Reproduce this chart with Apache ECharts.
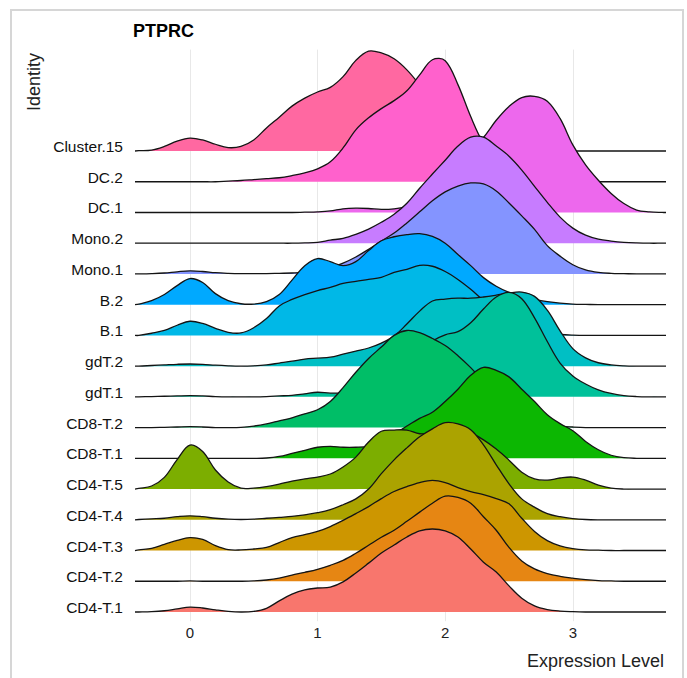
<!DOCTYPE html>
<html><head><meta charset="utf-8">
<script src="https://cdn.jsdelivr.net/npm/echarts@6/dist/echarts.min.js"></script>
<style>html,body{margin:0;padding:0;background:#fff}#c{width:687px;height:678px}</style>
</head><body><div id="c"></div>
<script>
// Identities, bottom row first
const identities = ['CD4-T.1','CD4-T.2','CD4-T.3','CD4-T.4','CD4-T.5','CD8-T.1','CD8-T.2','gdT.1','gdT.2','B.1','B.2','Mono.1','Mono.2','DC.1','DC.2','Cluster.15'];
const colors = ['#F8766D','#E68613','#CD9600','#ABA300','#7CAE00','#0CB702','#00BE67','#00C19A','#00BFC4','#00B8E7','#00A9FF','#8494FF','#C77CFF','#ED68ED','#FF61CC','#FF68A1'];
const xTicks = [0, 1, 2, 3];
const xs = [-0.4,-0.3,-0.2,-0.1,0,0.1,0.2,0.3,0.4,0.5,0.6,0.7,0.8,0.9,1,1.1,1.2,1.3,1.4,1.5,1.6,1.7,1.8,1.9,2,2.1,2.2,2.3,2.4,2.5,2.6,2.7,2.8,2.9,3,3.1,3.2,3.3,3.4,3.5,3.6,3.7];

// Ridge heights (in row units) at each xs
const CD4_T1 = [0,0.01,0.04,0.1,0.16,0.13,0.07,0.02,0,0.02,0.12,0.36,0.58,0.72,0.78,0.81,0.98,1.27,1.59,1.92,2.18,2.44,2.64,2.7,2.64,2.44,2.05,1.62,1.3,0.85,0.45,0.2,0.08,0.03,0.01,0,0,0,0,0,0,0];
const CD4_T2 = [0,0,0,0,0.01,0,0,0,0,0.01,0.04,0.1,0.2,0.29,0.39,0.52,0.68,0.91,1.17,1.43,1.66,1.95,2.25,2.54,2.77,2.73,2.54,2.1,1.66,1.1,0.66,0.4,0.25,0.16,0.1,0.05,0.02,0.01,0,0,0,0];
const CD4_T3 = [0.02,0.07,0.2,0.33,0.42,0.36,0.16,0.03,0.02,0.05,0.1,0.26,0.42,0.52,0.62,0.78,0.98,1.2,1.43,1.69,1.92,2.08,2.21,2.28,2.21,2.05,1.92,1.82,1.69,1.52,1.05,0.62,0.32,0.15,0.06,0.02,0.01,0,0,0,0,0];
const CD4_T4 = [0.01,0.03,0.05,0.1,0.13,0.1,0.05,0.02,0.01,0.02,0.05,0.08,0.11,0.16,0.23,0.33,0.49,0.68,1.0,1.5,1.95,2.34,2.7,2.96,3.16,3.12,2.93,2.44,1.79,1.17,0.68,0.41,0.2,0.1,0.04,0.01,0,0,0,0,0,0];
const CD4_T5 = [0.02,0.1,0.38,0.96,1.43,1.22,0.62,0.23,0.03,0.03,0.08,0.16,0.26,0.33,0.39,0.49,0.72,1.04,1.53,1.88,1.92,1.92,1.8,1.82,1.82,1.85,1.82,1.6,1.3,0.94,0.55,0.33,0.29,0.36,0.39,0.29,0.13,0.03,0,0,0,0];
const CD8_T1 = [0,0,0,0,0,0,0,0,0,0,0.01,0.06,0.16,0.26,0.36,0.39,0.36,0.36,0.39,0.52,0.78,1.05,1.3,1.5,1.85,2.25,2.7,2.96,2.86,2.65,2.25,1.85,1.42,1.13,0.9,0.55,0.28,0.1,0.02,0,0,0];
const CD8_T2 = [0,0,0.01,0.02,0.03,0.02,0,0,0.01,0.05,0.12,0.22,0.32,0.45,0.58,0.85,1.3,1.8,2.25,2.62,3.0,3.16,3.09,2.9,2.67,2.34,1.95,1.5,1.1,0.75,0.45,0.25,0.12,0.05,0.02,0,0,0,0,0,0,0];
const gdT_1 = [0,0.01,0.02,0.03,0.04,0.03,0.01,0,0,0,0.01,0.03,0.05,0.1,0.15,0.12,0.13,0.18,0.3,0.5,0.8,1.1,1.45,1.82,2.02,2.12,2.41,2.86,3.25,3.4,3.19,2.57,1.8,1.1,0.68,0.42,0.23,0.11,0.04,0.01,0,0];
const gdT_2 = [0,0.02,0.04,0.06,0.07,0.06,0.03,0.01,0,0.01,0.04,0.1,0.16,0.23,0.26,0.29,0.39,0.49,0.59,0.75,0.98,1.37,1.79,2.12,2.18,2.21,2.21,2.25,2.31,2.38,2.41,2.27,1.82,1.15,0.57,0.27,0.11,0.04,0.01,0,0,0];
const B_1 = [0,0.07,0.16,0.33,0.46,0.39,0.23,0.1,0.08,0.25,0.55,0.96,1.17,1.33,1.46,1.56,1.69,1.76,1.82,1.89,2.05,2.15,2.28,2.25,2.08,1.82,1.5,1.14,0.8,0.5,0.3,0.15,0.07,0.03,0.01,0,0,0,0,0,0,0];
const B_2 = [0.02,0.13,0.33,0.62,0.85,0.72,0.36,0.13,0.03,0.02,0.1,0.33,0.8,1.27,1.5,1.4,1.27,1.4,1.76,2.08,2.21,2.28,2.31,2.22,2.0,1.63,1.27,0.88,0.6,0.4,0.26,0.17,0.1,0.05,0.02,0.01,0,0,0,0,0,0];
const Mono_1 = [0,0.01,0.03,0.07,0.1,0.08,0.04,0.02,0.01,0.01,0.01,0.02,0.03,0.05,0.1,0.2,0.35,0.55,0.8,1.07,1.33,1.66,2.02,2.38,2.67,2.86,2.96,2.93,2.7,2.31,1.89,1.45,0.92,0.58,0.3,0.13,0.05,0.02,0.01,0,0,0];
const Mono_2 = [0,0,0,0,0,0,0,0,0,0,0,0,0,0.01,0.03,0.1,0.16,0.29,0.46,0.68,0.94,1.3,1.79,2.25,2.7,3.16,3.45,3.45,3.16,2.83,2.38,1.85,1.33,0.85,0.49,0.26,0.13,0.07,0.03,0.01,0,0];
const DC_1 = [0,0,0,0,0,0,0,0,0,0,0,0,0,0.01,0.02,0.05,0.12,0.14,0.13,0.1,0.12,0.2,0.35,0.6,1.0,1.5,2.0,2.44,3.0,3.45,3.74,3.78,3.62,3.06,2.2,1.55,1.05,0.62,0.29,0.08,0.02,0];
const DC_2 = [0,0,0,0,0,0,0,0.02,0.04,0.07,0.1,0.13,0.2,0.29,0.42,0.65,1.1,1.69,2.08,2.38,2.64,2.96,3.48,3.97,3.94,3.16,2.12,1.24,0.7,0.39,0.2,0.1,0.05,0.02,0.01,0,0,0,0,0,0,0];
const Cluster_15 = [0.01,0.03,0.15,0.32,0.42,0.36,0.22,0.11,0.15,0.36,0.75,1.1,1.46,1.72,1.92,2.07,2.42,2.95,3.25,3.19,3.0,2.64,2.15,1.6,1.1,0.7,0.4,0.2,0.1,0.05,0.02,0.01,0,0,0,0,0,0,0,0,0,0];

const heights = [CD4_T1,CD4_T2,CD4_T3,CD4_T4,CD4_T5,CD8_T1,CD8_T2,gdT_1,gdT_2,B_1,B_2,Mono_1,Mono_2,DC_1,DC_2,Cluster_15];

const FONT = '"Liberation Sans", Arial, Helvetica, sans-serif';
const X_MIN = -0.43, X_MAX = 3.73;
const SMOOTH = 0.36;

const series = [{
  type: 'line', data: [], z: 1, silent: true, animation: false,
  markLine: {
    silent: true, symbol: ['none', 'none'], animation: false,
    label: { show: false },
    lineStyle: { color: '#e8e8e8', width: 1, type: 'solid' },
    data: xTicks.map(v => ({ xAxis: v }))
  }
}];

function ridgeSeries(i) {
  const h = heights[i];
  const data = [[X_MIN, i]].concat(xs.map((x, k) => [x, i + h[k]])).concat([[X_MAX, i]]);
  return {
    type: 'custom', name: identities[i], data: data,
    z: 10 + (identities.length - 1 - i),
    silent: true, animation: false,
    encode: { x: 0, y: 1 },
    renderItem: function (params, api) {
      if (params.dataIndex !== 0) return null;
      const pts = data.map(d => api.coord(d));
      return {
        type: 'group',
        children: [
          { type: 'polygon', shape: { points: pts, smooth: SMOOTH },
            style: { fill: colors[i], stroke: null } },
          { type: 'polyline', shape: { points: pts, smooth: SMOOTH },
            style: { fill: null, stroke: '#141414', lineWidth: 1.3 } }
        ]
      };
    }
  };
}
for (let i = identities.length - 1; i >= 0; i--) series.push(ridgeSeries(i));

const chart = echarts.init(document.getElementById('c'), null, { renderer: 'svg' });
chart.setOption({
  backgroundColor: '#ffffff',
  animation: false,
  title: {
    text: 'PTPRC', left: 133, top: 22, padding: 0,
    textStyle: { fontSize: 18, fontWeight: 'bold', color: '#000', fontFamily: FONT }
  },
  grid: { left: 135, right: 21, top: 49.6, bottom: 56.8, containLabel: false },
  xAxis: {
    type: 'value', min: X_MIN, max: X_MAX,
    axisLine: { show: false }, axisTick: { show: false }, splitLine: { show: false },
    axisLabel: { customValues: xTicks, fontSize: 15, color: '#222', fontFamily: FONT, margin: 4 }
  },
  yAxis: {
    type: 'value', min: -0.3, max: 18.3,
    axisLine: { show: false }, axisTick: { show: false }, splitLine: { show: false },
    axisLabel: {
      customValues: identities.map((_, i) => i),
      formatter: v => identities[Math.round(v)],
      fontSize: 15.5, color: '#111', fontFamily: FONT, margin: 12,
      verticalAlign: 'bottom', lineHeight: 9
    }
  },
  graphic: [
    { type: 'rect', silent: true, shape: { x: 11, y: 10, width: 672, height: 690 },
      style: { fill: 'none', stroke: '#d6d6d6', lineWidth: 2 } },
    { type: 'text', x: 34, y: 82, rotation: Math.PI / 2, silent: true,
      style: { text: 'Identity', fontSize: 18, fontFamily: FONT, fill: '#222', align: 'center', verticalAlign: 'middle' } },
    { type: 'text', x: 664, y: 661, silent: true,
      style: { text: 'Expression Level', fontSize: 18, fontFamily: FONT, fill: '#222', align: 'right', verticalAlign: 'middle' } }
  ],
  series: series
});
</script>
</body></html>
